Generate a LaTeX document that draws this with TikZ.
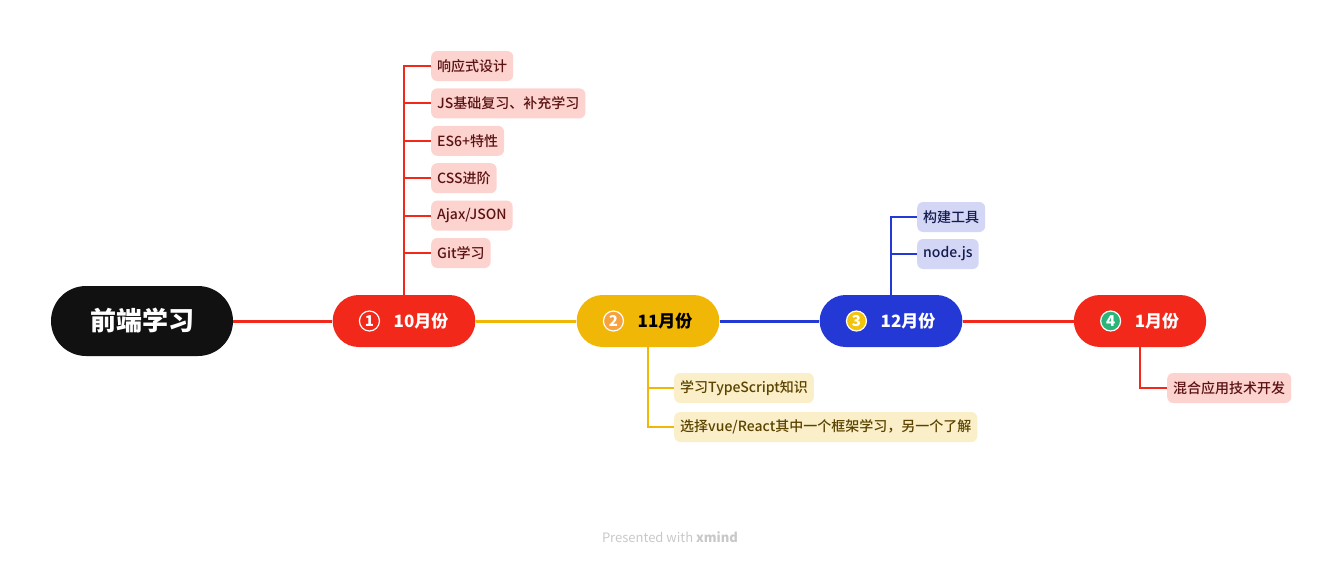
\documentclass[tikz,border=0pt]{standalone}
\usepackage{fontspec}
\setmainfont{Noto Sans CJK SC}
\newfontfamily\subfont{Noto Sans CJK SC Medium}
\usepackage{tikz}
\usetikzlibrary{calc}
\definecolor{CK}{HTML}{111111}
\definecolor{CR}{HTML}{F2291A}
\definecolor{CY}{HTML}{F0B707}
\definecolor{CB}{HTML}{2438D6}
\definecolor{CO}{HTML}{F7A23C}
\definecolor{CG}{HTML}{2CB57A}
\definecolor{CYb}{HTML}{F2C40C}
\definecolor{PR}{HTML}{FDD3CF}
\definecolor{PY}{HTML}{FAEFC8}
\definecolor{PB}{HTML}{D3D6F5}
\definecolor{TR}{HTML}{5A1212}
\definecolor{TY}{HTML}{5B4300}
\definecolor{TB}{HTML}{141C4F}
\definecolor{CW}{HTML}{C8C8C8}

\begin{document}
\begin{tikzpicture}[x=1pt,y=-1pt,
  root/.style={rectangle, rounded corners=35pt, minimum width=182pt, minimum height=70pt, fill=CK, text=white, font=\fontsize{26}{26}\selectfont\bfseries},
  topic/.style={rectangle, rounded corners=26pt, minimum height=52pt, inner xsep=27pt, inner ysep=0pt, text=white, font=\fontsize{17}{17}\selectfont\bfseries},
  badge/.style={circle, minimum size=20pt, inner sep=0pt, draw=white, line width=1.2pt, text=white, font=\fontsize{15}{15}\selectfont\bfseries},
  subtopic/.style={rectangle, rounded corners=6pt, minimum height=30pt, inner xsep=6pt, inner ysep=0pt, anchor=west, font=\fontsize{14}{14}\subfont},
  main line/.style={line width=3pt},
  sub line/.style={line width=2pt}]
\useasboundingbox (0,0) rectangle (1341,563);
% root and months
\node[root] (root) at (142,321) {前端学习};
\node[topic, fill=CR] (m1) at (404,321) {\hspace*{34pt}10月份};
\node[topic, fill=CY, text=black] (m2) at (648,321) {\hspace*{34pt}11月份};
\node[topic, fill=CB] (m3) at (891,321) {\hspace*{34pt}12月份};
\node[topic, fill=CR] (m4) at (1140,321) {\hspace*{34pt}1月份};
\node[badge] (b1) at ($(m1.west)+(37,0)$) {1};
\node[badge, fill=CO] (b2) at ($(m2.west)+(37,0)$) {2};
\node[badge, fill=CYb] (b3) at ($(m3.west)+(37,0)$) {3};
\node[badge, fill=CG] (b4) at ($(m4.west)+(37,0)$) {4};
\draw[main line, CR] (root) -- (m1);
\draw[main line, CY] (m1) -- (m2);
\draw[main line, CB] (m2) -- (m3);
\draw[main line, CR] (m3) -- (m4);
% October
\foreach \txt [count=\i] in {响应式设计, JS基础复习、补充学习, ES6+特性, CSS进阶, Ajax/JSON, Git学习}{
  \node[subtopic, fill=PR, text=TR] (s1\i) at (431,{66+(\i-1)*37.4}) {\txt};
  \draw[sub line, CR] (m1.north) |- (s1\i.west);
}
% November
\node[subtopic, fill=PY, text=TY] (s21) at (674,388) {学习TypeScript知识};
\node[subtopic, fill=PY, text=TY] (s22) at (674,427) {选择vue/React其中一个框架学习，另一个了解};
\draw[sub line, CY] (m2.south) |- (s21.west);
\draw[sub line, CY] (m2.south) |- (s22.west);
% December
\node[subtopic, fill=PB, text=TB] (s31) at (917,217) {构建工具};
\node[subtopic, fill=PB, text=TB] (s32) at (917,254) {node.js};
\draw[sub line, CB] (m3.north) |- (s31.west);
\draw[sub line, CB] (m3.north) |- (s32.west);
% January
\node[subtopic, fill=PR, text=TR] (s41) at (1167,388) {混合应用技术开发};
\draw[sub line, CR] (m4.south) |- (s41.west);
\node[text=CW, font=\fontsize{13}{13}\selectfont] (credit) at (670,537) {Presented with \textbf{xmind}};
\end{tikzpicture}
\end{document}
